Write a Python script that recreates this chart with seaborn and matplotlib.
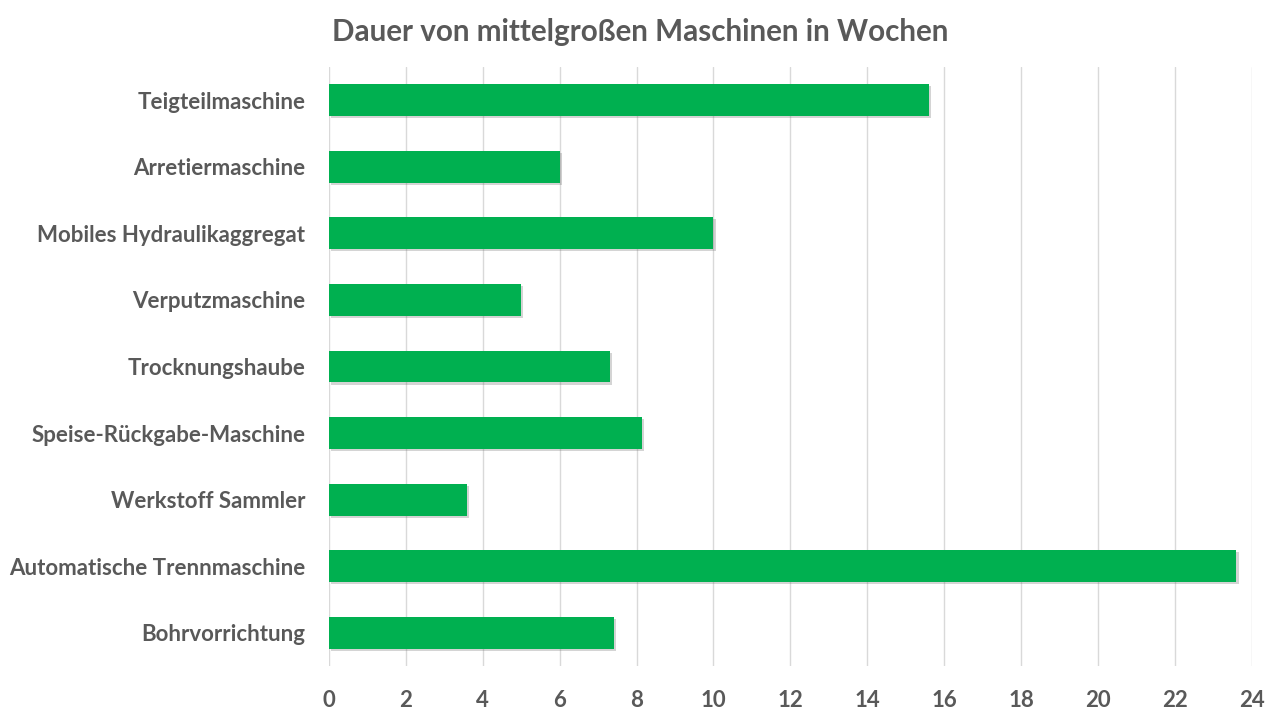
import matplotlib
matplotlib.use("Agg")
import matplotlib.pyplot as plt
import matplotlib.patheffects as pe
import seaborn as sns
import pandas as pd

categories = ["Teigteilmaschine", "Arretiermaschine", "Mobiles Hydraulikaggregat",
              "Verputzmaschine", "Trocknungshaube", "Speise-Rückgabe-Maschine",
              "Werkstoff Sammler", "Automatische Trennmaschine", "Bohrvorrichtung"]
values = [15.6, 6.0, 10.0, 5.0, 7.3, 8.15, 3.6, 23.6, 7.4]
xticks = [0, 2, 4, 6, 8, 10, 12, 14, 16, 18, 20, 22, 24]
title = "Dauer von mittelgroßen Maschinen in Wochen"

df = pd.DataFrame({"Maschine": categories, "Wochen": values})

sns.set_style("white")
plt.rcParams["font.family"] = ["Lato", "DejaVu Sans"]

fig = plt.figure(figsize=(12.8, 7.2), dpi=100)
ax = fig.add_axes([0.257, 0.075, 0.721, 0.832])

sns.barplot(data=df, y="Maschine", x="Wochen", color="#00B050", saturation=1,
            width=0.48, linewidth=0, ax=ax, zorder=3)
for p in ax.patches:
    p.set_path_effects([pe.SimplePatchShadow(offset=(1.5, -1.5), shadow_rgbFace="#666666", alpha=0.28),
                        pe.Normal()])

ax.set_xlim(0, 24)
ax.set_ylim(8.5, -0.5)
ax.set_xticks(xticks)
ax.set_xticklabels([str(t) for t in xticks])
ax.grid(axis="x", color="#D9D9D9", linewidth=1, zorder=0)
ax.grid(axis="y", visible=False)
for s in ax.spines.values():
    s.set_visible(False)
ax.tick_params(axis="both", length=0, colors="#595959")
ax.tick_params(axis="x", pad=17, labelsize=16)
ax.tick_params(axis="y", pad=17, labelsize=16)
for lab in ax.get_xticklabels() + ax.get_yticklabels():
    lab.set_fontweight("bold")
    lab.set_color("#595959")
ax.set_xlabel("")
ax.set_ylabel("")
fig.text(0.5, 0.955, title, ha="center", va="center", fontsize=21.3,
         fontweight="bold", color="#595959")

fig.savefig("out.png", dpi=100)
